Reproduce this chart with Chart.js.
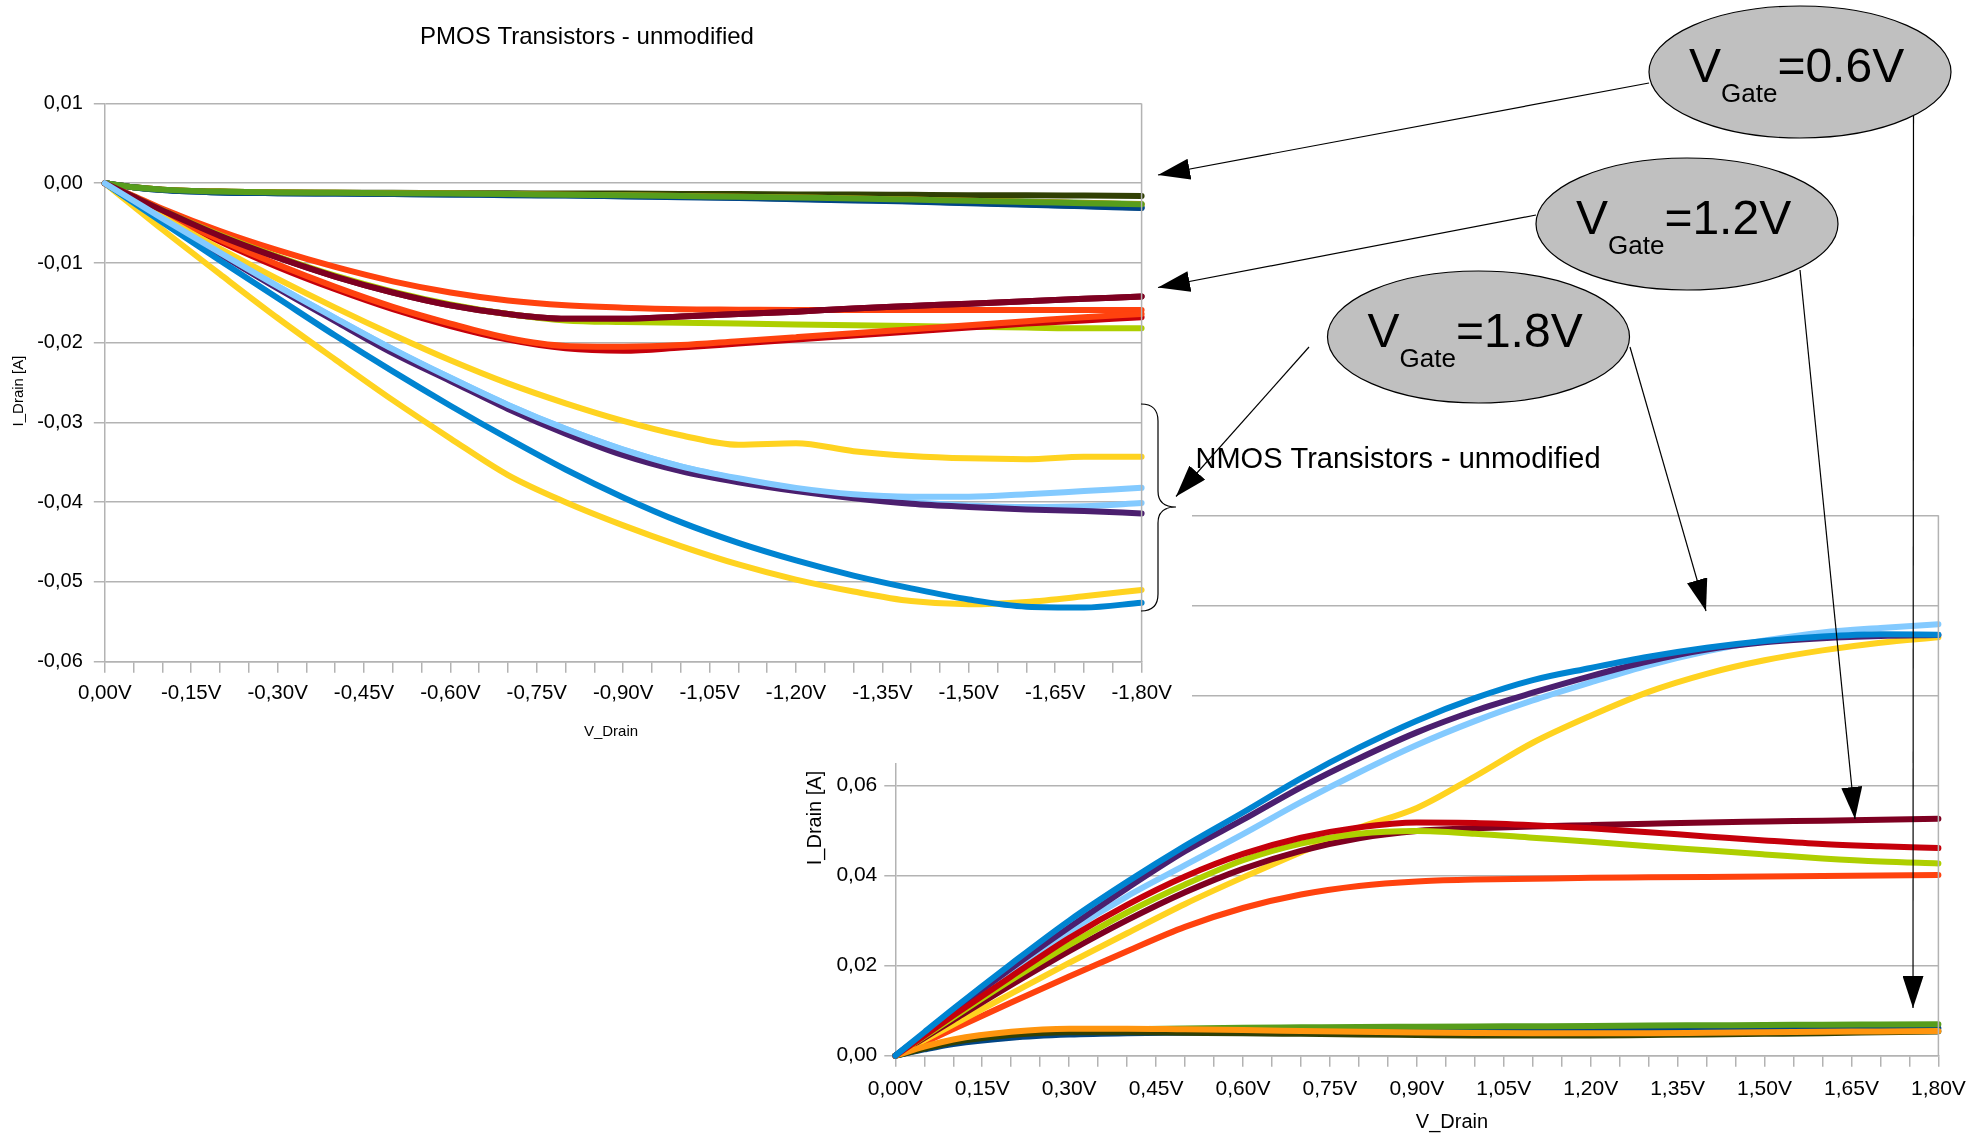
<!DOCTYPE html>
<html>
<head>
<meta charset="utf-8">
<title>PMOS / NMOS Transistors - unmodified</title>
<script src="https://cdn.jsdelivr.net/npm/chart.js@4.4.1/dist/chart.umd.min.js"></script>
<style>
  html, body { margin: 0; padding: 0; background: #fff; }
  #stage { position: relative; width: 1980px; height: 1137px; overflow: hidden; }
  #nmos { position: absolute; left: 780px; top: 380px; }
  #pmos { position: absolute; left: 0; top: 0; background: #fff; }
  #notes { position: absolute; left: 0; top: 0; pointer-events: none; }
</style>
</head>
<body>
<div id="stage">
  <canvas id="nmos" width="1200" height="757"></canvas>
  <canvas id="pmos" width="1192" height="763"></canvas>
  <svg id="notes" width="1980" height="1137" viewBox="0 0 1980 1137" font-family="Liberation Sans, Arial, sans-serif">
    <defs>
      <marker id="head" markerUnits="userSpaceOnUse" viewBox="0 0 32 21" markerWidth="32" markerHeight="21" refX="32" refY="10.5" orient="auto">
        <path d="M0,0 L32,10.5 L0,21 Z" fill="#000"/>
      </marker>
    </defs>
    <g stroke="#000" stroke-width="1.2" fill="none">
      <line x1="1649" y1="83" x2="1158" y2="175" marker-end="url(#head)"/>
      <line x1="1536" y1="215" x2="1158" y2="287.5" marker-end="url(#head)"/>
      <line x1="1309" y1="347" x2="1176" y2="496.5" marker-end="url(#head)"/>
      <line x1="1630" y1="347" x2="1706" y2="611" marker-end="url(#head)"/>
      <line x1="1800" y1="270" x2="1855" y2="819" marker-end="url(#head)"/>
      <line x1="1913.5" y1="116" x2="1913" y2="1008" marker-end="url(#head)"/>
      <path d="M1141,404 Q1158,404 1158,421 L1158,491 Q1158,507 1176,507 Q1158,507 1158,523 L1158,594 Q1158,611 1141,611"/>
    </g>
    <g fill="#c0c0c0" stroke="#000" stroke-width="1.2">
      <ellipse cx="1800" cy="72" rx="151" ry="66"/>
      <ellipse cx="1687" cy="224" rx="151" ry="66"/>
      <ellipse cx="1478.5" cy="337" rx="151" ry="66"/>
    </g>
    <g fill="#000">
      <text x="1689" y="82" font-size="48">V<tspan font-size="26" dy="20">Gate</tspan><tspan dy="-20">=0.6V</tspan></text>
      <text x="1576" y="233.5" font-size="48">V<tspan font-size="26" dy="20">Gate</tspan><tspan dy="-20">=1.2V</tspan></text>
      <text x="1367.5" y="346.5" font-size="48">V<tspan font-size="26" dy="20">Gate</tspan><tspan dy="-20">=1.8V</tspan></text>
    </g>
  </svg>
</div>
<script>
// drain voltage magnitude [V] of every measured point
const vDrain = [0, 0.05, 0.1, 0.2, 0.3, 0.4, 0.5, 0.6, 0.7, 0.8, 0.9, 1.0, 1.1, 1.2, 1.3, 1.4, 1.5, 1.6, 1.7, 1.8];

// PMOS drain currents [mA], series in LibreOffice order (gate 0.6 / 1.2 / 1.8 V per device)
const pmos1_06 = [0, -0.5, -0.85, -1.15, -1.25, -1.3, -1.35, -1.4, -1.45, -1.5, -1.6, -1.7, -1.8, -1.95, -2.1, -2.25, -2.45, -2.65, -2.85, -3.05];
const pmos1_12 = [0, -1.6, -3.2, -6.0, -8.4, -10.5, -12.3, -13.7, -14.7, -15.3, -15.6, -15.8, -15.85, -15.9, -15.9, -15.9, -15.9, -15.9, -15.9, -15.9];
const pmos1_18 = [0, -2.9, -5.8, -11.4, -16.9, -22.1, -27.2, -32.0, -36.6, -40.0, -42.9, -45.5, -47.8, -49.7, -51.2, -52.4, -52.8, -52.5, -51.8, -51.0];
const pmos2_06 = [0, -0.5, -0.8, -1.05, -1.15, -1.2, -1.25, -1.3, -1.35, -1.4, -1.5, -1.6, -1.7, -1.8, -1.9, -2.0, -2.15, -2.3, -2.45, -2.6];
const pmos2_12 = [0, -1.7, -3.4, -6.6, -9.3, -11.7, -13.7, -15.3, -16.4, -17.0, -17.0, -16.7, -16.4, -16.1, -15.7, -15.4, -15.1, -14.8, -14.5, -14.2];
const pmos2_18 = [0, -2.2, -4.4, -8.7, -12.9, -16.9, -20.8, -24.4, -27.8, -30.8, -33.4, -35.5, -37.1, -38.4, -39.4, -40.0, -40.4, -40.6, -40.5, -40.1];
const pmos3_06 = [0, -0.5, -0.8, -1.05, -1.15, -1.2, -1.2, -1.25, -1.25, -1.3, -1.3, -1.35, -1.35, -1.4, -1.4, -1.45, -1.5, -1.5, -1.55, -1.6];
const pmos3_12 = [0, -1.7, -3.4, -6.5, -9.2, -11.6, -13.6, -15.2, -16.4, -17.2, -17.4, -17.5, -17.6, -17.7, -17.8, -17.9, -18.0, -18.1, -18.2, -18.2];
const pmos3_18 = [0, -2.25, -4.5, -8.9, -13.2, -17.3, -21.3, -24.8, -28.3, -31.4, -34.1, -36.1, -37.5, -38.6, -39.5, -40.2, -40.6, -40.9, -41.1, -41.4];
const pmos4_06 = [0, -0.5, -0.8, -1.05, -1.15, -1.2, -1.25, -1.3, -1.35, -1.45, -1.5, -1.6, -1.7, -1.8, -1.9, -2.05, -2.2, -2.35, -2.5, -2.65];
const pmos4_12 = [0, -1.9, -3.8, -7.3, -10.5, -13.3, -15.8, -17.9, -19.6, -20.7, -21.0, -20.6, -20.1, -19.6, -19.1, -18.6, -18.1, -17.6, -17.2, -16.8];
const pmos4_18 = [0, -2.45, -4.9, -9.7, -14.4, -19.1, -23.6, -27.9, -32.0, -35.9, -39.4, -42.5, -45.1, -47.3, -49.2, -50.8, -52.2, -53.1, -53.2, -52.6];
const pmos5_06 = [0, -0.5, -0.85, -1.15, -1.25, -1.3, -1.35, -1.4, -1.5, -1.55, -1.65, -1.75, -1.85, -2.0, -2.15, -2.3, -2.5, -2.7, -2.9, -3.1];
const pmos5_12 = [0, -1.9, -3.7, -7.1, -10.2, -13.0, -15.5, -17.6, -19.4, -20.4, -20.5, -20.3, -19.8, -19.3, -18.8, -18.3, -17.8, -17.3, -16.8, -16.4];
const pmos5_18 = [0, -2.1, -4.2, -8.2, -12.0, -15.6, -19.0, -22.2, -25.1, -27.6, -29.8, -31.6, -32.8, -32.6, -33.6, -34.2, -34.5, -34.6, -34.3, -34.3];
const pmos6_06 = [0, -0.5, -0.8, -1.05, -1.15, -1.2, -1.25, -1.3, -1.35, -1.45, -1.5, -1.6, -1.7, -1.8, -1.9, -2.05, -2.2, -2.35, -2.5, -2.65];
const pmos6_12 = [0, -1.7, -3.4, -6.6, -9.3, -11.7, -13.7, -15.3, -16.4, -17.0, -17.0, -16.7, -16.4, -16.1, -15.7, -15.4, -15.1, -14.8, -14.5, -14.2];
const pmos6_18 = [0, -2.2, -4.4, -8.7, -12.9, -16.9, -20.8, -24.4, -27.8, -30.8, -33.4, -35.5, -37.0, -38.2, -39.0, -39.3, -39.3, -39.0, -38.6, -38.2];

// NMOS drain currents [mA]
const nmos1_06 = [0, 1.4, 2.6, 4.0, 4.7, 5.0, 5.1, 5.2, 5.3, 5.4, 5.45, 5.5, 5.55, 5.6, 5.65, 5.7, 5.8, 5.9, 6.0, 6.1];
const nmos1_12 = [0, 2.95, 5.9, 11.8, 17.6, 23.2, 28.6, 32.8, 35.8, 37.7, 38.7, 39.1, 39.3, 39.5, 39.6, 39.7, 39.8, 39.9, 40.0, 40.1];
const nmos1_18 = [0, 3.45, 6.9, 13.8, 20.6, 27.2, 33.7, 39.6, 45.2, 50.6, 55.0, 62.0, 69.5, 75.5, 80.8, 84.8, 87.8, 90.0, 91.7, 92.9];
const nmos2_06 = [0, 1.8, 3.2, 4.9, 5.6, 5.9, 6.05, 6.2, 6.3, 6.4, 6.45, 6.5, 6.55, 6.6, 6.7, 6.75, 6.8, 6.9, 6.95, 7.0];
const nmos2_12 = [0, 3.95, 7.9, 15.7, 23.2, 30.1, 36.3, 41.5, 45.5, 48.3, 49.9, 50.5, 50.9, 51.2, 51.5, 51.8, 52.0, 52.2, 52.4, 52.6];
const nmos2_18 = [0, 4.75, 9.5, 18.8, 27.6, 35.4, 42.3, 49.2, 56.3, 62.9, 69.0, 74.3, 78.9, 82.9, 86.7, 89.8, 92.2, 94.0, 95.0, 95.8];
const nmos3_06 = [0, 1.6, 3.0, 4.6, 5.2, 5.2, 5.1, 5.0, 4.85, 4.7, 4.6, 4.5, 4.5, 4.5, 4.6, 4.7, 4.85, 5.0, 5.2, 5.4];
const nmos3_12 = [0, 4.25, 8.5, 16.8, 24.6, 31.8, 38.0, 43.4, 47.1, 49.3, 49.9, 49.3, 48.4, 47.5, 46.5, 45.6, 44.7, 43.8, 43.1, 42.7];
const nmos3_18 = [0, 4.9, 9.8, 19.4, 28.5, 37.2, 45.4, 52.4, 59.6, 66.0, 71.8, 76.6, 80.6, 84.3, 87.6, 90.2, 91.8, 92.7, 93.2, 93.4];
const nmos4_06 = [0, 2.0, 3.6, 5.3, 6.0, 6.0, 5.85, 5.7, 5.5, 5.3, 5.15, 5.05, 5.0, 5.0, 5.0, 5.1, 5.2, 5.3, 5.4, 5.5];
const nmos4_12 = [0, 4.45, 8.9, 17.6, 26.1, 33.5, 39.8, 44.8, 48.4, 50.7, 51.8, 51.7, 51.2, 50.5, 49.6, 48.7, 47.8, 47.0, 46.5, 46.1];
const nmos4_18 = [0, 5.2, 10.4, 20.4, 30.0, 38.6, 46.6, 54.0, 61.6, 68.4, 74.4, 79.4, 83.4, 86.1, 88.6, 90.6, 92.1, 93.1, 93.6, 93.5];

// axis ticks
const pmosCurrentTicks = [-0.06, -0.05, -0.04, -0.03, -0.02, -0.01, 0, 0.01];
const nmosCurrentTicks = [0, 0.02, 0.04, 0.06, 0.08, 0.10, 0.12];
const voltageTicks = Array.from({ length: 37 }, (_, i) => Math.round(i * 5) / 100);

// LibreOffice default series palette
const palette = ['#004586', '#ff420e', '#ffd320', '#579d1c', '#7e0021', '#83caff',
                 '#314004', '#aecf00', '#4b1f6f', '#ff950e', '#c5000b', '#0084d1'];

const pmosSeries = [pmos1_06, pmos1_12, pmos1_18, pmos2_06, pmos2_12, pmos2_18,
                    pmos3_06, pmos3_12, pmos3_18, pmos4_06, pmos4_12, pmos4_18,
                    pmos5_06, pmos5_12, pmos5_18, pmos6_06, pmos6_12, pmos6_18];
const nmosSeries = [nmos1_06, nmos1_12, nmos1_18, nmos2_06, nmos2_12, nmos2_18,
                    nmos3_06, nmos3_12, nmos3_18, nmos4_06, nmos4_12, nmos4_18];

const fontFamily = 'Liberation Sans, Arial, sans-serif';
const gridColor = '#b3b3b3';

Chart.defaults.font.family = fontFamily;
Chart.defaults.color = '#000';

function decimal(v) {
    return (Math.abs(v) < 1e-9 ? 0 : v).toFixed(2).replace('.', ',');
}

function toDatasets(series, sign) {
    return series.map((values, i) => ({
        label: 'Series ' + (i + 1),
        data: vDrain.map((v, k) => ({ x: sign * v, y: values[k] / 1000 })),
        borderColor: palette[i % palette.length],
        borderWidth: 6,
        pointRadius: 0,
        fill: false,
        cubicInterpolationMode: 'monotone',
        borderCapStyle: 'round',
        borderJoinStyle: 'round',
        clip: 6,
        order: series.length - i   // later series painted on top, like the original
    }));
}

// titles drawn at fixed spots, like the original picture
const captions = {
    id: 'captions',
    afterDraw(chart, args, opts) {
        const ctx = chart.ctx;
        const area = chart.chartArea;
        ctx.save();
        // right frame of the plot area
        ctx.strokeStyle = gridColor;
        ctx.lineWidth = 1.5;
        ctx.beginPath();
        ctx.moveTo(area.right, area.top);
        ctx.lineTo(area.right, area.bottom);
        ctx.stroke();

        ctx.fillStyle = '#000';
        ctx.textAlign = 'center';
        ctx.textBaseline = 'middle';
        opts.items.forEach(item => {
            ctx.save();
            ctx.font = item.size + 'px ' + fontFamily;
            ctx.translate(item.x, item.y);
            if (item.rotate) {
                ctx.rotate(item.rotate);
            }
            ctx.fillText(item.text, 0, 0);
            ctx.restore();
        });
        ctx.restore();
    }
};

function makeChart(canvasId, cfg) {
    return new Chart(document.getElementById(canvasId), {
        type: 'line',
        data: { datasets: toDatasets(cfg.series, cfg.sign) },
        options: {
            responsive: false,
            animation: false,
            events: [],
            layout: { padding: cfg.padding },
            plugins: {
                legend: { display: false },
                tooltip: { enabled: false },
                captions: { items: cfg.captions }
            },
            scales: {
                x: {
                    type: 'linear',
                    min: cfg.sign < 0 ? -1.8 : 0,
                    max: cfg.sign < 0 ? 0 : 1.8,
                    reverse: cfg.sign < 0,
                    afterBuildTicks: axis => {
                        const vals = cfg.sign < 0 ? voltageTicks.map(v => -v).reverse() : voltageTicks;
                        axis.ticks = vals.map(v => ({ value: v }));
                    },
                    afterFit: axis => { axis.height = cfg.xHeight; },
                    grid: { drawOnChartArea: false, drawTicks: true, tickLength: 11, color: gridColor, lineWidth: 1.5 },
                    border: { display: true, color: gridColor, width: 1.5 },
                    ticks: {
                        autoSkip: false,
                        maxRotation: 0,
                        minRotation: 0,
                        padding: cfg.xPad,
                        color: '#000',
                        font: { size: cfg.xFont },
                        callback: (v, i) => (i % 3 === 0 ? decimal(v) + 'V' : '')
                    }
                },
                y: {
                    type: 'linear',
                    min: cfg.yTicks[0],
                    max: cfg.yTicks[cfg.yTicks.length - 1],
                    afterBuildTicks: axis => { axis.ticks = cfg.yTicks.map(v => ({ value: v })); },
                    afterFit: axis => { axis.width = cfg.yWidth; },
                    grid: { color: gridColor, lineWidth: 1.5, drawTicks: true, tickLength: 11 },
                    border: { display: true, color: gridColor, width: 1.5 },
                    ticks: {
                        padding: cfg.yPad,
                        color: '#000',
                        font: { size: cfg.yFont },
                        callback: v => decimal(v)
                    }
                }
            }
        },
        plugins: [captions]
    });
}

makeChart('nmos', {
    series: nmosSeries,
    sign: 1,
    yTicks: nmosCurrentTicks,
    padding: { top: 135.3, right: 41.6, bottom: 0, left: 0 },
    yWidth: 115.3,
    xHeight: 81.3,
    xFont: 21, yFont: 21, xPad: 10, yPad: 7,
    captions: [
        { text: 'NMOS Transistors - unmodified', x: 618, y: 80, size: 29 },
        { text: 'I_Drain [A]', x: 35, y: 438, size: 20, rotate: -Math.PI / 2 },
        { text: 'V_Drain', x: 672, y: 742, size: 20 }
    ]
});

makeChart('pmos', {
    series: pmosSeries,
    sign: -1,
    yTicks: pmosCurrentTicks,
    padding: { top: 103.5, right: 50.4, bottom: 0, left: 0 },
    yWidth: 104.8,
    xHeight: 101.3,
    xFont: 20.5, yFont: 20, xPad: 8, yPad: 11,
    captions: [
        { text: 'PMOS Transistors - unmodified', x: 587, y: 37, size: 24 },
        { text: 'I_Drain [A]', x: 19, y: 391, size: 15, rotate: -Math.PI / 2 },
        { text: 'V_Drain', x: 611, y: 732, size: 15 }
    ]
});
</script>
</body>
</html>
